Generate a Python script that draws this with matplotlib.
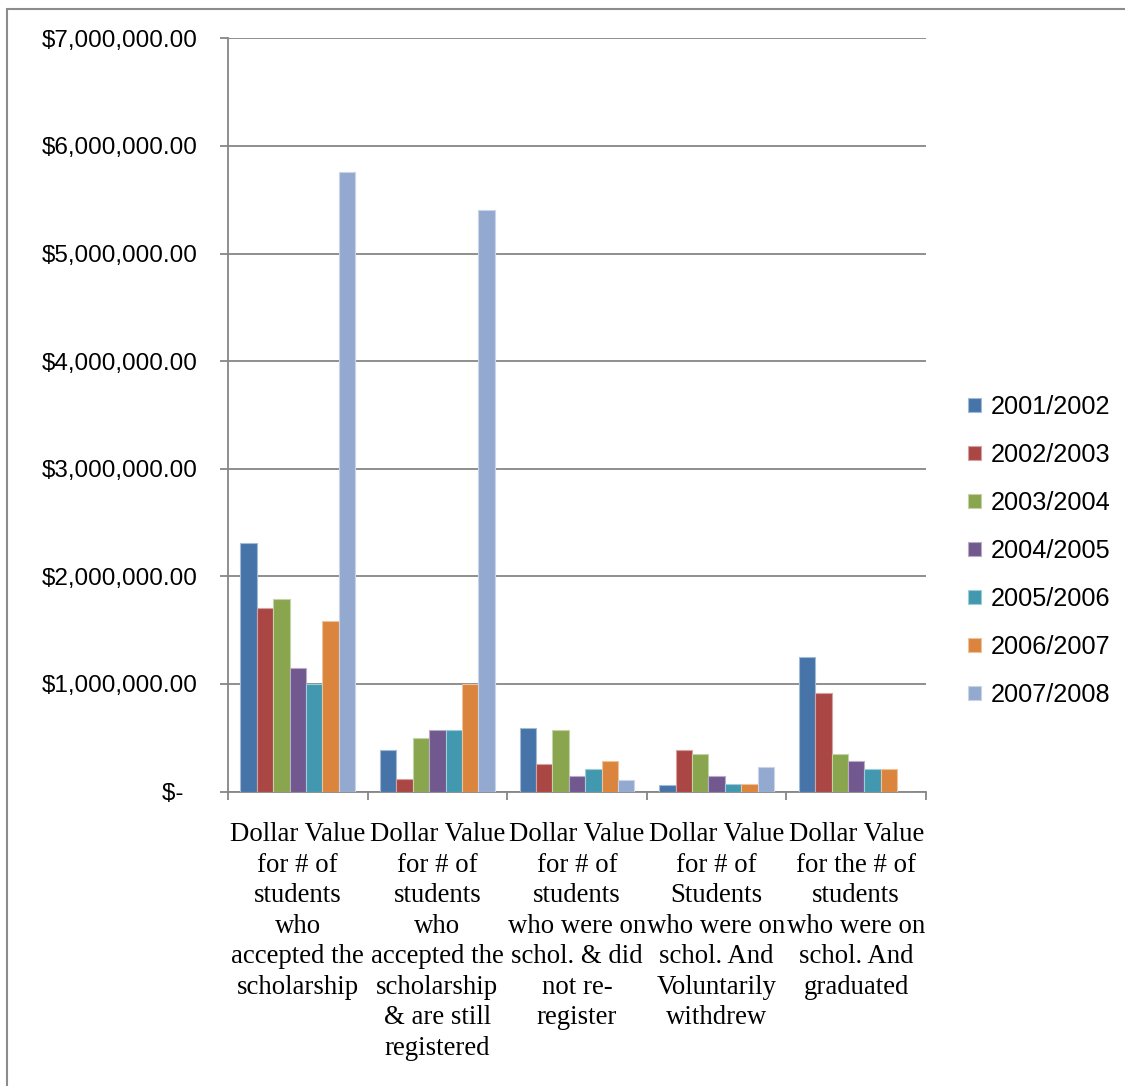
import matplotlib
matplotlib.use("Agg")
import matplotlib.pyplot as plt
import numpy as np
from matplotlib.patches import Rectangle
from matplotlib.colors import to_rgb

# Categorias (texto con saltos como en el original)
categorias = [
    "Dollar Value\nfor # of\nstudents\nwho\naccepted the\nscholarship",
    "Dollar Value\nfor # of\nstudents\nwho\naccepted the\nscholarship\n& are still\nregistered",
    "Dollar Value\nfor # of\nstudents\nwho were on\nschol. & did\nnot re-\nregister",
    "Dollar Value\nfor # of\nStudents\nwho were on\nschol. And\nVoluntarily\nwithdrew",
    "Dollar Value\nfor the # of\nstudents\nwho were on\nschol. And\ngraduated",
]

anios = ["2001/2002", "2002/2003", "2003/2004", "2004/2005",
         "2005/2006", "2006/2007", "2007/2008"]

# Valores (dolares)
v_2001 = [2310000, 390000, 590000, 60000, 1250000]
v_2002 = [1710000, 120000, 260000, 390000, 920000]
v_2003 = [1790000, 500000, 570000, 350000, 350000]
v_2004 = [1150000, 570000, 140000, 140000, 280000]
v_2005 = [1000000, 570000, 210000, 70000, 210000]
v_2006 = [1580000, 1000000, 280000, 70000, 210000]
v_2007 = [5760000, 5400000, 110000, 230000, 0]

y_ticks = [0, 1e6, 2e6, 3e6, 4e6, 5e6, 6e6, 7e6]
y_labels = ["$-  ", "$1,000,000.00", "$2,000,000.00", "$3,000,000.00",
            "$4,000,000.00", "$5,000,000.00", "$6,000,000.00", "$7,000,000.00"]

colores = ["#4674A9", "#AA4643", "#89A54E", "#71588F",
           "#4198AF", "#DB843D", "#93A9CF"]
series = [v_2001, v_2002, v_2003, v_2004, v_2005, v_2006, v_2007]

W, H = 1125, 1086
fig = plt.figure(figsize=(W / 100, H / 100), dpi=100)

# marco exterior del grafico
fig.patches.append(Rectangle((7 / W, -0.1), 1.2, 1 - 9 / H + 0.1,
                             transform=fig.transFigure, fill=False,
                             edgecolor="#8c8c8c", linewidth=1.5))

ax = fig.add_axes([228 / W, (H - 791.5) / H, 698 / W, (791.5 - 38.3) / H])

x = np.arange(len(categorias))
ancho = 1 / 8.5
gris = "#868686"

for j, (vals, col) in enumerate(zip(series, colores)):
    borde = tuple(0.5 * c + 0.5 for c in to_rgb(col))
    ax.bar(x + (j - 3) * ancho, vals, width=ancho, color=col,
           edgecolor=borde, linewidth=0.8, label=anios[j], zorder=3)

ax.set_xlim(-0.5, len(categorias) - 0.5)
ax.set_ylim(0, 7e6)
ax.set_yticks(y_ticks)
ax.set_yticklabels(y_labels, family="Liberation Sans", fontsize=17.5)
ax.yaxis.grid(True, color=gris, linewidth=1.3, zorder=0)
ax.tick_params(axis="y", length=6, width=1.3, color=gris, pad=16)

ax.set_xticks(x)
ax.set_xticklabels(categorias, family="Liberation Serif", fontsize=19.3,
                   linespacing=1.29, va="top")
ax.tick_params(axis="x", which="major", length=0, pad=22)
ax.set_xticks(np.arange(len(categorias) + 1) - 0.5, minor=True)
ax.tick_params(axis="x", which="minor", length=6, width=1.3, color=gris)

for lado in ["top", "right"]:
    ax.spines[lado].set_visible(False)
for lado in ["left", "bottom"]:
    ax.spines[lado].set_color(gris)
    ax.spines[lado].set_linewidth(1.3)

fig.legend(loc="center left", bbox_to_anchor=(968 / W, (H - 551) / H),
           frameon=False, prop={"family": "Liberation Sans", "size": 18.2},
           handlelength=0.52, handleheight=0.52, handletextpad=0.37,
           labelspacing=0.95, borderpad=0, borderaxespad=0)

fig.savefig("out.png", dpi=100)
